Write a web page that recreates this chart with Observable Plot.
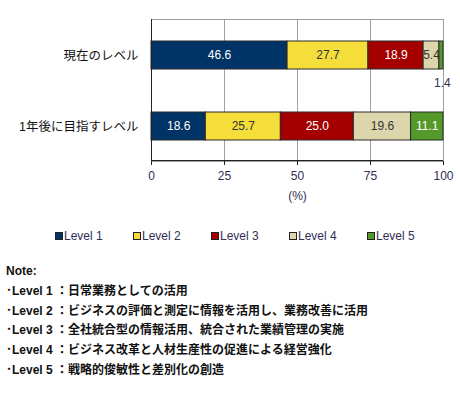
<!DOCTYPE html>
<html><head><meta charset="utf-8">
<script src="https://cdn.jsdelivr.net/npm/d3@7"></script>
<script src="https://cdn.jsdelivr.net/npm/@observablehq/plot@0.6"></script>
<style>
body{margin:0;background:#fff;font-family:"Liberation Sans",Arial,"Noto Sans CJK JP",sans-serif;}
#wrap{position:relative;width:460px;height:398px;overflow:hidden;}
#chart{position:absolute;left:0;top:0;}
#legend{position:absolute;left:0;top:229px;width:460px;display:flex;justify-content:flex-start;padding-left:55px;box-sizing:border-box;font-size:12px;color:#332e55;}
#legend .it{display:flex;align-items:center;width:78px;}
#legend .sw{width:6px;height:6px;border:1px solid #222;margin-right:1px;}
#notes{position:absolute;left:6px;top:262px;font-family:"Liberation Sans",Arial,"Noto Sans CJK JP",sans-serif;font-weight:bold;font-size:12px;color:#111;line-height:19.8px;white-space:pre;}
</style></head>
<body><div id="wrap"><div id="chart"></div><div id="legend"></div><div id="notes"></div></div>
<script>
const categories = ["現在のレベル", "1年後に目指すレベル"];
const levels = ["Level 1", "Level 2", "Level 3", "Level 4", "Level 5"];
const currentValues = [46.6, 27.7, 18.9, 5.4, 1.4];
const futureValues = [18.6, 25.7, 25.0, 19.6, 11.1];
const xTicks = [0, 25, 50, 75, 100];
const colors = ["#003366", "#f5dd3a", "#a50000", "#ddd6ad", "#55992a"];
const textColors = ["#ffffff", "#333333", "#ffffff", "#333333", "#ffffff"];
const noteTitle = "Note:";
const noteLines = [
  "･Level 1 ：日常業務としての活用",
  "･Level 2 ：ビジネスの評価と測定に情報を活用し、業務改善に活用",
  "･Level 3 ：全社統合型の情報活用、統合された業績管理の実施",
  "･Level 4 ：ビジネス改革と人材生産性の促進による経営強化",
  "･Level 5 ：戦略的俊敏性と差別化の創造"
];

const data = [];
[currentValues, futureValues].forEach((vals, ci) => {
  vals.forEach((v, li) => data.push({cat: categories[ci], level: levels[li], li, value: v}));
});

const stackOpts = {x: "value", y: "cat", z: "level", order: levels};

const plot = Plot.plot({
  width: 460, height: 205,
  marginLeft: 151, marginRight: 17, marginTop: 19, marginBottom: 44,
  style: {fontFamily: '"Liberation Sans", Arial, "Noto Sans CJK JP", sans-serif', fontSize: "11px", color: "#332e55"},
  x: {domain: [0, 100]},
  y: {domain: categories, paddingInner: 0.606, paddingOuter: 0.303},
  color: {domain: levels, range: colors},
  marks: [
    Plot.gridX(xTicks.slice(1), {stroke: "#a0a0a0", strokeOpacity: 1, strokeWidth: 1}),
    Plot.frame({stroke: "#a0a0a0", strokeWidth: 1}),
    Plot.barX(data, Plot.stackX({...stackOpts, fill: "level", stroke: "#2a2a2a", strokeWidth: 1, inset: 0})),
    Plot.text(data, Plot.stackX({...stackOpts, text: d => d.value >= 3 ? d.value.toFixed(1) : "", fill: d => textColors[d.li], fontSize: 12})),
    Plot.text(data, Plot.stackX({...stackOpts, text: d => d.value < 3 ? d.value.toFixed(1) : "", fill: "#332e55", fontSize: 12, dy: 28, dx: 1})),
    Plot.ruleX([0], {stroke: "#222"}),
    Plot.axisX({ticks: xTicks, tickSize: 4, tickPadding: 6, fontSize: 12, stroke: "#222", label: "(%)", labelAnchor: "center", labelArrow: "none", labelOffset: 38, color: "#332e55"}),
    Plot.axisY({tickSize: 0, tickPadding: 13, fontSize: 12.5, color: "#111", label: null, style: {letterSpacing: "0.6px"}})
  ]
});
document.getElementById("chart").appendChild(plot);
const svg = d3.select(plot);
const xs = plot.scale("x");
svg.append("line").attr("x1", xs.apply(0)).attr("x2", xs.apply(100)).attr("y1", 160.5).attr("y2", 160.5).attr("stroke", "#222");

const lg = d3.select("#legend");
levels.forEach((l, i) => {
  const it = lg.append("div").attr("class", "it");
  it.append("div").attr("class", "sw").style("background", colors[i]);
  it.append("span").text(l);
});
const nt = d3.select("#notes");
nt.append("div").text(noteTitle);
noteLines.forEach(t => nt.append("div").text(t));
</script></body></html>
